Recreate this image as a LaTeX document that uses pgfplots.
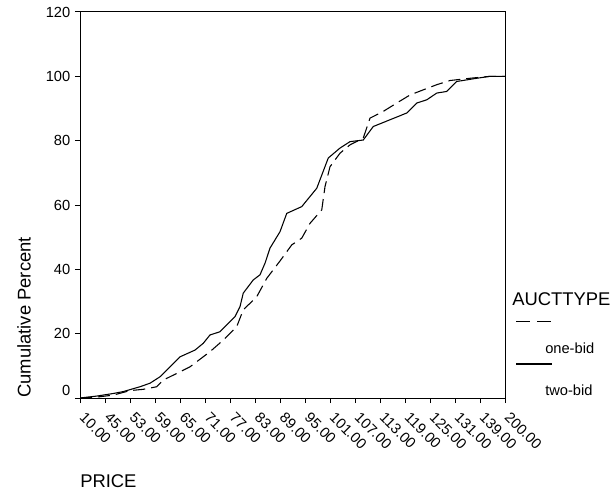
\documentclass[border=0pt]{standalone}
\usepackage{pgfplots}
\pgfplotsset{compat=1.18}
\usepackage{fontspec}
\setmainfont{Liberation Sans}
\begin{document}
\begin{tikzpicture}
\path[use as bounding box] (0pt,0pt) rectangle (459.75pt,372.75pt);
\begin{axis}[
    at={(60pt,74.25pt)}, anchor=south west,
    scale only axis, width=318.75pt, height=289.5pt,
    xmin=0, xmax=17, ymin=0, ymax=120,
    xtick={0,...,17},
    xticklabels={10.00,45.00,53.00,59.00,65.00,71.00,77.00,83.00,89.00,95.00,101.00,107.00,113.00,119.00,125.00,131.00,139.00,200.00},
    ytick={0,20,...,120},
    yticklabels={\raisebox{6pt}[\height][\depth]{0},20,40,60,80,100,120},
    xtick pos=bottom, ytick pos=left,
    tick align=outside, major tick length=3.75pt,
    tick style={black, line width=0.75pt},
    axis line style={line width=0.75pt},
    ticklabel style={font=\fontsize{11}{13}\selectfont},
    xticklabel style={rotate=-45, anchor=north west, inner sep=1pt,
        execute at begin node={\hspace*{6.5pt}}},
]
% two-bid (solid)
\addplot[black, line width=0.8pt] coordinates {
(0,0) (0.67,0.6) (1.33,1.4) (1.73,2.0) (2.4,3.5) (2.8,4.6) (3.2,6.6) (3.47,8.7)
(4.0,12.8) (4.6,14.9) (4.93,17.0) (5.2,19.6) (5.6,20.6) (5.93,23.2) (6.2,25.3)
(6.4,28.4) (6.53,32.6) (6.93,36.7) (7.2,38.3) (7.4,41.9) (7.6,46.6) (8.0,51.7)
(8.27,57.4) (8.87,59.5) (9.47,65.2) (9.93,74.6) (10.4,77.7) (10.8,79.7)
(11.33,80.2) (11.73,84.4) (12.4,86.5) (13.07,88.6) (13.47,91.7) (13.87,92.7)
(14.27,94.8) (14.67,95.3) (15.07,98.4) (15.87,99.4) (16.4,100) (17,100)
};
% one-bid (dashed)
\addplot[black, line width=0.8pt, dash pattern=on 9pt off 4.5pt] coordinates {
(0,0) (0.8,0.4) (1.33,0.9) (2.0,2.3) (2.53,2.7) (3.07,3.5) (3.33,5.6) (3.6,6.6)
(4.4,9.7) (5.2,14.4) (5.73,18.0) (6.27,22.2) (6.53,27.4) (7.07,31.5) (7.47,37.2)
(8.0,42.6) (8.47,47.6) (8.87,49.7) (9.2,54.3) (9.67,58.5) (9.8,65.7) (10.0,71.9)
(10.4,76.1) (10.8,78.7) (11.33,80.8) (11.6,87.0) (12.13,89.1) (12.67,91.7)
(13.2,94.2) (13.73,95.8) (14.27,97.4) (14.8,98.7) (15.6,99.4) (16.4,100) (17,100)
};
\end{axis}
% axis titles
\node[rotate=90, anchor=west, inner sep=0pt, font=\fontsize{13.8}{16}\selectfont] at (18pt,74.25pt) {Cumulative Percent};
\node[anchor=west, inner sep=0pt, font=\fontsize{13.8}{16}\selectfont] at (60pt,12pt) {PRICE};
% legend
\node[anchor=west, inner sep=0pt, font=\fontsize{13.8}{16}\selectfont] at (384pt,148.5pt) {AUCTTYPE};
\draw[black, line width=0.8pt, dash pattern=on 10.5pt off 5.5pt] (387pt,131.5pt) -- (414pt,131.5pt);
\node[anchor=west, inner sep=0pt, font=\fontsize{11}{13}\selectfont] at (408.75pt,111.75pt) {one-bid};
\draw[black, line width=0.8pt] (387pt,99.75pt) -- (414pt,99.75pt);
\node[anchor=west, inner sep=0pt, font=\fontsize{11}{13}\selectfont] at (408.75pt,80.25pt) {two-bid};
\end{tikzpicture}
\end{document}
